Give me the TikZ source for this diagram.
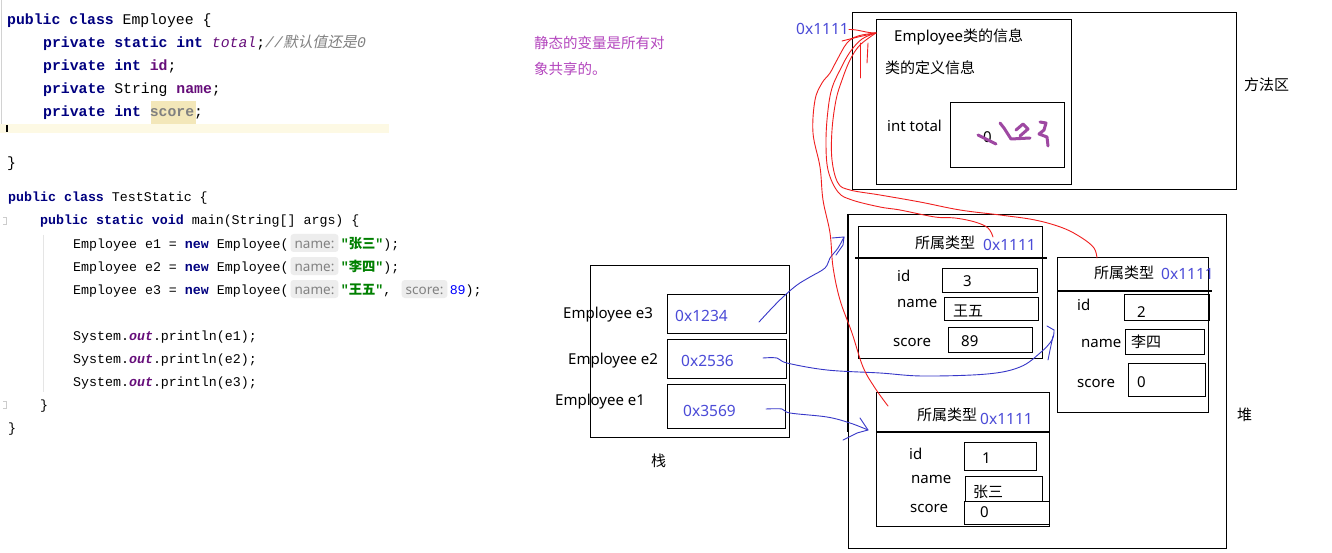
\documentclass[tikz,border=0pt]{standalone}
\usepackage{fontspec}
\setmainfont{Noto Sans}
\newfontfamily\cjk{Noto Sans CJK SC}
\newfontfamily\cjkit[FakeSlant=0.2]{Noto Sans CJK SC}
\newfontfamily\codefont{Liberation Mono}
\usetikzlibrary{calc}

\definecolor{kwcol}{RGB}{0,0,128}
\definecolor{fldcol}{RGB}{102,14,122}
\definecolor{cmtcol}{RGB}{128,128,128}
\definecolor{strcol}{RGB}{0,128,0}
\definecolor{numcol}{RGB}{0,0,255}
\definecolor{hintbg}{RGB}{237,237,237}
\definecolor{hinttx}{RGB}{130,130,130}
\definecolor{curline}{RGB}{253,249,228}
\definecolor{unusedbg}{RGB}{243,231,185}
\definecolor{inkblue}{RGB}{75,75,215}
\definecolor{penblue}{RGB}{55,55,200}
\definecolor{penred}{RGB}{240,30,30}
\definecolor{penpurple}{RGB}{158,72,162}
\definecolor{notecol}{RGB}{180,70,190}

\newcommand\kw[1]{{\bfseries\color{kwcol}#1}}
\newcommand\fld[1]{{\bfseries\color{fldcol}#1}}
\newcommand\jstr[1]{{\bfseries\color{strcol}"{\cjk #1}"}}
\newcommand\outf{{\bfseries\itshape\color{fldcol}out}}

\tikzset{
  codeA/.style={font=\codefont\fontsize{14.8}{17}\selectfont, anchor=base west, inner sep=0pt},
  codeB/.style={font=\codefont\fontsize{13.3}{16}\selectfont, anchor=base west, inner sep=0pt},
  hint/.style={anchor=base west, fill=hintbg, rounded corners=3pt, text=hinttx,
    font=\fontsize{13.5}{16}\selectfont, inner xsep=4pt, inner ysep=3.5pt,
    text height=10.5pt, text depth=0.5pt},
  box/.style={draw, line width=1.1pt, inner sep=0pt, anchor=north west},
  lbl/.style={font=\fontsize{15}{18}\selectfont, anchor=base west, inner sep=0pt},
  hexv/.style={lbl, text=inkblue, font=\fontsize{15.5}{18}\selectfont},
  pen/.style={line width=0.9pt, line cap=round, line join=round},
  scrib/.style={line width=3pt, penpurple, line cap=round, line join=round}
}

\begin{document}
\begin{tikzpicture}[x=1pt,y=-1pt]
  \fill[white] (0,0) rectangle (1332,553);
  \useasboundingbox (0,0) rectangle (1332,553);

  %code de la classe Employee
  \draw[gray!35] (1,0) -- (1,133);
  \fill[curline] (0,124) rectangle (389,133);
  \fill[unusedbg] (151,101) rectangle (196,124);
  \draw[line width=2pt] (7,125) -- (7,132);
  \node[codeA] (a1) at (7,25) {\kw{public} \kw{class} Employee \{};
  \node[codeA] (a2) at (43,48) {\kw{private} \kw{static} \kw{int} {\itshape\color{fldcol}total};{\itshape\color{cmtcol}//{\cjkit 默认值还是}0}};
  \node[codeA] (a3) at (43,71) {\kw{private} \kw{int} \fld{id};};
  \node[codeA] (a4) at (43,94) {\kw{private} String \fld{name};};
  \node[codeA] (a5) at (43,117) {\kw{private} \kw{int} {\bfseries\color{cmtcol}score};};
  \node[codeA] (a6) at (7,168) {\}};

  %code de TestStatic
  \draw[gray!20] (43,235) -- (43,392);
  \draw[gray!40] (3,217) -- (6,217) -- (6,224) -- (3,224);
  \draw[gray!40] (3,401) -- (6,401) -- (6,408) -- (3,408);
  \node[codeB] (b1) at (8,202) {\kw{public} \kw{class} TestStatic \{};
  \node[codeB] (b2) at (40,225) {\kw{public} \kw{static} \kw{void} main(String[] args) \{};
  \node[codeB] (b3) at (73,248) {Employee e1 = \kw{new} Employee(};
  \node[hint] (h3) at ([xshift=1.5pt]b3.base east) {name:};
  \node[codeB] (c3) at ([xshift=2pt]h3.base east) {\jstr{张三});};
  \node[codeB] (b4) at (73,271) {Employee e2 = \kw{new} Employee(};
  \node[hint] (h4) at ([xshift=1.5pt]b4.base east) {name:};
  \node[codeB] (c4) at ([xshift=2pt]h4.base east) {\jstr{李四});};
  \node[codeB] (b5) at (73,294) {Employee e3 = \kw{new} Employee(};
  \node[hint] (h5) at ([xshift=1.5pt]b5.base east) {name:};
  \node[codeB] (c5) at ([xshift=2pt]h5.base east) {\jstr{王五},};
  \node[hint] (k5) at ([xshift=10pt]c5.base east) {score:};
  \node[codeB] (d5) at ([xshift=2pt]k5.base east) {{\color{numcol}89});};
  \node[codeB] (b6) at (73,340) {System.\outf.println(e1);};
  \node[codeB] (b7) at (73,363) {System.\outf.println(e2);};
  \node[codeB] (b8) at (73,386) {System.\outf.println(e3);};
  \node[codeB] (b9) at (40,409) {\}};
  \node[codeB] (b10) at (8,432) {\}};

  %remarque
  \node[lbl, text=notecol, font=\cjk\fontsize{14.5}{18}\selectfont] (note1) at (534,49) {静态的变量是所有对};
  \node[lbl, text=notecol, font=\cjk\fontsize{14.5}{18}\selectfont] (note2) at (534,75) {象共享的。};

  %zone des methodes
  \node[box, minimum width=384pt, minimum height=177pt] (meth) at (852,12) {};
  \node[box, minimum width=195pt, minimum height=165pt] (cls) at (876,19) {};
  \node[box, minimum width=114pt, minimum height=65pt] (tot) at (950,102) {};
  \node[hexv] (addr) at (796,35) {0x1111};
  \node[lbl] (clsname) at (894,42) {Employee{\cjk 类的信息}};
  \node[lbl, font=\cjk\fontsize{15}{18}\selectfont] (clsdef) at (885,74) {类的定义信息};
  \node[lbl] (inttot) at (887,132) {int total};
  \node[lbl] (totval) at (983,143) {0};
  \node[lbl, font=\cjk\fontsize{15}{18}\selectfont] (methlbl) at (1244,91) {方法区};
  \draw[scrib] (978,135) -- (996,144);
  \draw[scrib] (1000,123) -- (1004,128) -- (1011,139) -- (1030,138);
  \draw[scrib] (1016,130) -- (1023,124) -- (1028,129) -- (1020,136);
  \draw[scrib] (1040,122) -- (1046,123) -- (1044,130) -- (1039,134) -- (1047,137) -- (1048,146);

  %tas
  \node[box, minimum width=378pt, minimum height=334pt] (heap) at (848,214) {};
  \draw[line width=2.2pt] (848,214) -- (848,432);
  \node[lbl, font=\cjk\fontsize{15}{18}\selectfont] (heaplbl) at (1237,420) {堆};

  %objet e3
  \node[box, minimum width=184pt, minimum height=132pt] (obj3) at (858,226) {};
  \draw[line width=1.1pt] (855,258) -- (1047,258);
  \node[lbl, font=\cjk\fontsize{15}{18}\selectfont] (t3) at (915,249) {所属类型};
  \node[hexv] (x3) at (983,251) {0x1111};
  \node[lbl] (id3l) at (897,281) {id};
  \node[lbl] (nm3l) at (897,307) {name};
  \node[lbl] (sc3l) at (893,346) {score};
  \node[box, minimum width=95pt, minimum height=24pt] (id3) at (942,268) {};
  \node[box, minimum width=94pt, minimum height=23pt] (nm3) at (944,297) {};
  \node[box, minimum width=84pt, minimum height=25pt] (sc3) at (948,327) {};
  \node[lbl] (id3v) at (963,286) {3};
  \node[lbl, font=\cjk\fontsize{15}{18}\selectfont] (nm3v) at (953,316) {王五};
  \node[lbl] (sc3v) at (961,346) {89};

  %objet e2
  \node[box, minimum width=151pt, minimum height=155pt] (obj2) at (1057,257) {};
  \draw[line width=1.1pt] (1058,291) -- (1212,291);
  \node[lbl, font=\cjk\fontsize{15}{18}\selectfont] (t2) at (1094,278) {所属类型};
  \node[hexv] (x2) at (1161,279) {0x1111};
  \node[lbl] (id2l) at (1077,310) {id};
  \node[lbl] (nm2l) at (1081,347) {name};
  \node[lbl] (sc2l) at (1077,387) {score};
  \node[box, minimum width=85pt, minimum height=26pt] (id2) at (1124,294) {};
  \node[box, minimum width=79pt, minimum height=25pt] (nm2) at (1125,329) {};
  \node[box, minimum width=77pt, minimum height=33pt] (sc2) at (1128,363) {};
  \node[lbl] (id2v) at (1137,317) {2};
  \node[lbl, font=\cjk\fontsize{15}{18}\selectfont] (nm2v) at (1131,347) {李四};
  \node[lbl] (sc2v) at (1137,387) {0};

  %objet e1
  \node[box, minimum width=173pt, minimum height=134pt] (obj1) at (876,392) {};
  \draw[line width=1.1pt] (876,432) -- (1050,432);
  \node[lbl, font=\cjk\fontsize{15}{18}\selectfont] (t1) at (917,420) {所属类型};
  \node[hexv] (x1) at (980,424) {0x1111};
  \node[lbl] (id1l) at (909,459) {id};
  \node[lbl] (nm1l) at (911,483) {name};
  \node[lbl] (sc1l) at (910,512) {score};
  \node[box, minimum width=72pt, minimum height=28pt] (id1) at (964,442) {};
  \node[box, minimum width=77pt, minimum height=25pt] (nm1) at (965,476) {};
  \node[box, minimum width=85pt, minimum height=23pt, fill=white] (sc1) at (964,501) {};
  \node[lbl] (id1v) at (982,463) {1};
  \node[lbl, font=\cjk\fontsize{15}{18}\selectfont] (nm1v) at (973,497) {张三};
  \node[lbl] (sc1v) at (980,517) {0};

  %pile
  \node[box, minimum width=199pt, minimum height=172pt] (stack) at (590,265) {};
  \node[box, minimum width=119pt, minimum height=39pt] (s3) at (667,294) {};
  \node[box, minimum width=119pt, minimum height=39pt] (s2) at (667,339) {};
  \node[box, minimum width=118pt, minimum height=44pt] (s1) at (667,384) {};
  \node[lbl] (e3l) at (563,318) {Employee e3};
  \node[lbl] (e2l) at (568,364) {Employee e2};
  \node[lbl] (e1l) at (555,405) {Employee e1};
  \node[hexv] (v3) at (675,321) {0x1234};
  \node[hexv] (v2) at (681,366) {0x2536};
  \node[hexv] (v1) at (683,416) {0x3569};
  \node[lbl, font=\cjk\fontsize{15}{18}\selectfont] (stacklbl) at (651,466) {栈};

  %references pile -> tas (a la main)
  \coordinate (p3) at (759,322);
  \coordinate (p2) at (763,358);
  \coordinate (p1) at (766,409);
  \coordinate (q3) at (844,237);
  \coordinate (q2) at (1054,330);
  \coordinate (q1) at (868,430);
  \draw[pen, penblue] plot[smooth, tension=0.6] coordinates {(p3) (772,308) (783,297) (797,285) (810,277) (825,268) (830,258) (838,248) (q3)};
  \draw[pen, penblue] (832,238) -- (q3) -- (843,245) -- (836,255);
  \draw[pen, penblue] plot[smooth, tension=0.6] coordinates {(p2) (777,358) (787,363) (827,370) (880,373) (923,376) (987,374) (1020,367) (1040,353) (1052,340) (q2)};
  \draw[pen, penblue] (1047,326) -- (q2);
  \draw[pen, penblue] (1053,336) -- (1050,350) -- (1048,360);
  \draw[pen, penblue] plot[smooth, tension=0.6] coordinates {(p1) (782,409) (790,413) (827,417) (850,423) (q1)};
  \draw[pen, penblue] (860,418) -- (q1) -- (857,433) -- (843,440);

  %references objets -> classe (a la main)
  \coordinate (r1) at (888,406);
  \coordinate (r3) at (993,237);
  \coordinate (r2) at (1097,258);
  \coordinate (clsin) at (876,33);
  \draw[pen, penred] plot[smooth, tension=0.6] coordinates {(r1) (875,388) (863,367) (852,333) (840,300) (833,267) (830,233) (823,200) (820,167) (813,133) (815,100) (822,83) (830,73) (837,60) (847,43) (858,36) (clsin)};
  \draw[pen, penred] plot[smooth, tension=0.6] coordinates {(r3) (988,228) (975,222) (955,218) (935,217) (900,210) (880,207) (852,200) (838,192) (828,170) (826,140) (828,110) (832,88) (840,70) (850,52) (862,39) (clsin)};
  \draw[pen, penred] plot[smooth, tension=0.6] coordinates {(r2) (1094,248) (1082,238) (1063,228) (1035,220) (1000,215) (960,210) (920,202) (880,195) (850,190) (838,183) (832,160) (832,130) (836,100) (842,80) (850,60) (860,45) (clsin)};
  \draw[pen, penred] (addr.east) to[out=0, in=180] (clsin);
  \draw[pen, penred] (842,41) -- (858,37) -- (clsin);
  \draw[pen, penred] (860,43) -- (860,78);
  \draw[pen, penred] (868,43) -- (867,63);
\end{tikzpicture}
\end{document}
